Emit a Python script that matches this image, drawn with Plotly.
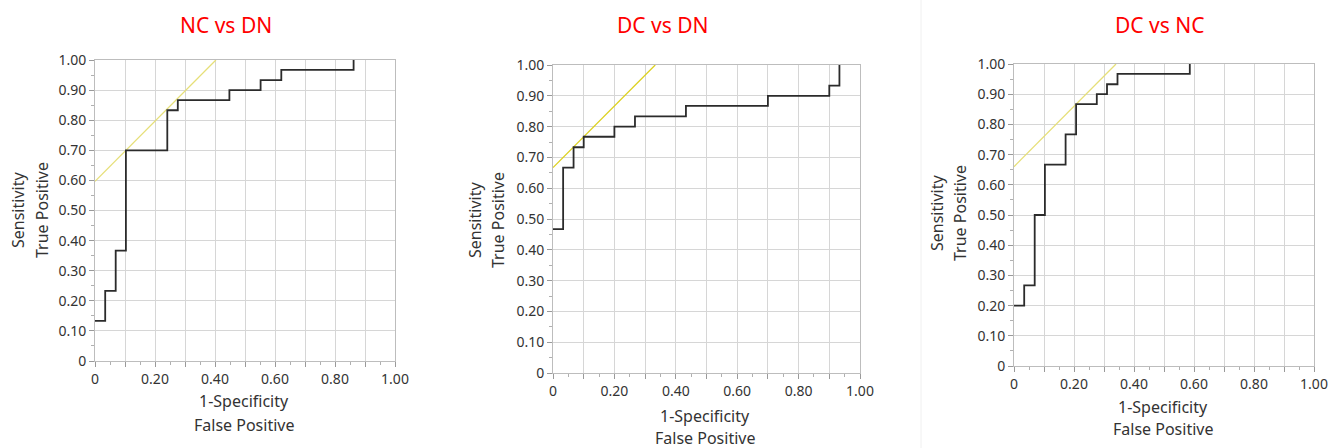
import plotly.graph_objects as go

W, H = 1337, 448

titles = ["NC vs DN", "DC vs DN", "DC vs NC"]

# ROC step vertices (1-Specificity, Sensitivity)
fpr_nc_dn = [0.0, 0.034, 0.069, 0.103, 0.241, 0.276, 0.448, 0.552, 0.621, 0.862]
tpr_nc_dn = [0.133, 0.233, 0.367, 0.700, 0.833, 0.867, 0.900, 0.933, 0.967, 1.000]

fpr_dc_dn = [0.0, 0.033, 0.067, 0.100, 0.200, 0.267, 0.433, 0.700, 0.900, 0.933]
tpr_dc_dn = [0.467, 0.667, 0.733, 0.767, 0.800, 0.833, 0.867, 0.900, 0.933, 1.000]

fpr_dc_nc = [0.0, 0.034, 0.069, 0.103, 0.172, 0.207, 0.276, 0.310, 0.345, 0.586]
tpr_dc_nc = [0.200, 0.267, 0.500, 0.667, 0.767, 0.867, 0.900, 0.933, 0.967, 1.000]

# tangent (yellow) lines: endpoints
tan_x_nc_dn = [0.0, 0.403]
tan_y_nc_dn = [0.597, 1.0]
tan_x_dc_dn = [0.0, 0.333]
tan_y_dc_dn = [0.667, 1.0]
tan_x_dc_nc = [0.0, 0.340]
tan_y_dc_nc = [0.660, 1.0]

x_ticks = [0, 0.1, 0.2, 0.3, 0.4, 0.5, 0.6, 0.7, 0.8, 0.9, 1.0]
x_tick_text = ["0", "", "0.20", "", "0.40", "", "0.60", "", "0.80", "", "1.00"]
y_ticks = [0, 0.1, 0.2, 0.3, 0.4, 0.5, 0.6, 0.7, 0.8, 0.9, 1.0]
y_tick_text = ["0", "0.10", "0.20", "0.30", "0.40", "0.50", "0.60", "0.70", "0.80", "0.90", "1.00"]

curves = [
    (fpr_nc_dn, tpr_nc_dn, tan_x_nc_dn, tan_y_nc_dn, "#e6df78"),
    (fpr_dc_dn, tpr_dc_dn, tan_x_dc_dn, tan_y_dc_dn, "#dcd01e"),
    (fpr_dc_nc, tpr_dc_nc, tan_x_dc_nc, tan_y_dc_nc, "#e6df78"),
]

# pixel boxes of the plot areas: (left, right, top, bottom)
boxes = [(95, 395, 60, 361), (553, 860, 65, 373), (1014, 1314, 64, 366)]
title_pos = [(226, 25), (663, 25), (1159, 25)]
xtitle_pos = [(244, 401, 425), (705, 416, 438), (1163, 407, 429)]
ytitle_pos = [(18, 42, 210), (475, 498, 220), (937, 960, 213)]

FONT = "Noto Sans, Open Sans, sans-serif"
TXT = "#333333"

fig = go.Figure()
layout = dict(
    width=W, height=H, margin=dict(l=0, r=0, t=0, b=0, pad=0, autoexpand=False),
    paper_bgcolor="white", plot_bgcolor="white", showlegend=False,
    font=dict(family=FONT, size=14, color=TXT),
)
annotations = []
for i, ((fx, ty, tx, tyy, ycol), (l, r, t, b)) in enumerate(zip(curves, boxes)):
    n = "" if i == 0 else str(i + 1)
    fig.add_trace(go.Scatter(x=tx, y=tyy, mode="lines", line=dict(color=ycol, width=1.3),
                             xaxis="x" + n, yaxis="y" + n, hoverinfo="skip"))
    fig.add_trace(go.Scatter(x=fx, y=ty, mode="lines", line=dict(color="#2b2b2b", width=1.8, shape="hv"),
                             xaxis="x" + n, yaxis="y" + n))
    common = dict(showline=True, mirror=True, linecolor="#bdbdbd", linewidth=1,
                  gridcolor="#d6d6d6", gridwidth=1, zeroline=False, range=[0, 1],
                  ticks="outside", ticklen=5, tickcolor="#9a9a9a", tickwidth=1, automargin=False,
                  tickfont=dict(family=FONT, size=14, color=TXT), fixedrange=True,
                  minor=dict(dtick=0.05, tick0=0, ticks="outside", ticklen=3, tickcolor="#b0b0b0", showgrid=False))
    layout["xaxis" + n] = dict(common, domain=[l / W, r / W], anchor="y" + n,
                               tickmode="array", tickvals=x_ticks, ticktext=x_tick_text)
    layout["yaxis" + n] = dict(common, domain=[1 - b / H, 1 - t / H], anchor="x" + n,
                               tickmode="array", tickvals=y_ticks, ticktext=y_tick_text)
    cx, cy = title_pos[i]
    annotations.append(dict(text=titles[i], x=cx / W, y=1 - cy / H, xref="paper", yref="paper",
                            showarrow=False, xanchor="center", yanchor="middle",
                            font=dict(family=FONT, size=21, color="#ff0000")))
    xx, y1, y2 = xtitle_pos[i]
    annotations.append(dict(text="1-Specificity", x=xx / W, y=1 - y1 / H, xref="paper", yref="paper",
                            showarrow=False, xanchor="center", yanchor="middle",
                            font=dict(family=FONT, size=16, color=TXT)))
    annotations.append(dict(text="False Positive", x=xx / W, y=1 - y2 / H, xref="paper", yref="paper",
                            showarrow=False, xanchor="center", yanchor="middle",
                            font=dict(family=FONT, size=16, color=TXT)))
    x1, x2, yy = ytitle_pos[i]
    annotations.append(dict(text="Sensitivity", x=x1 / W, y=1 - yy / H, xref="paper", yref="paper",
                            showarrow=False, xanchor="center", yanchor="middle", textangle=-90,
                            font=dict(family=FONT, size=16, color=TXT)))
    annotations.append(dict(text="True Positive", x=x2 / W, y=1 - yy / H, xref="paper", yref="paper",
                            showarrow=False, xanchor="center", yanchor="middle", textangle=-90,
                            font=dict(family=FONT, size=16, color=TXT)))

layout["annotations"] = annotations
layout["shapes"] = [dict(type="line", xref="paper", yref="paper", x0=921 / W, x1=921 / W, y0=0, y1=1,
                         line=dict(color="#f0f0f0", width=1))]
fig.update_layout(**layout)
fig.write_html("out.html")
